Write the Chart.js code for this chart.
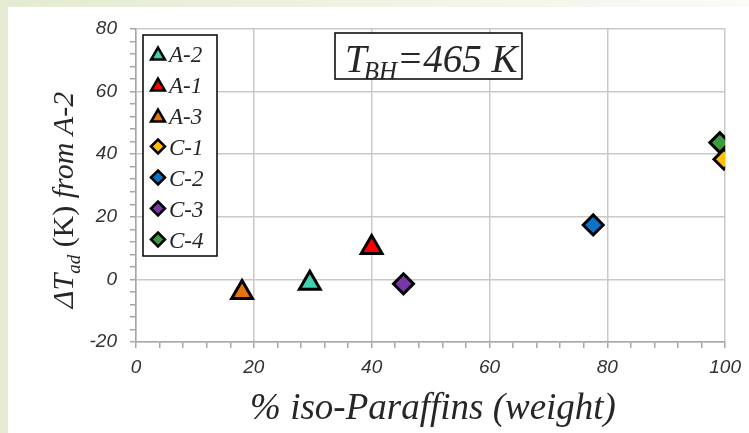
<!DOCTYPE html>
<html>
<head>
<meta charset="utf-8">
<script src="https://cdn.jsdelivr.net/npm/chart.js@4.4.1/dist/chart.umd.min.js"></script>
<style>
  html, body { margin: 0; padding: 0; background: #fff; }
  #wrap { width: 749px; height: 433px; }
</style>
</head>
<body>
<div id="wrap"><canvas id="chart"></canvas></div>
<script>
/*************************************************
 * DATA
 *************************************************/
const samples      = ["A-2", "A-1", "A-3", "C-1", "C-2", "C-3", "C-4"];
const isoParaffins = [29.5, 40, 18, 99.8, 77.6, 45.4, 99.1];   // % weight
const deltaTad     = [-1.2, 10.2, -4.2, 38.4, 17.4, -1.4, 43.7]; // K from A-2
const xTicks       = [0, 20, 40, 60, 80, 100];
const yTicks       = [-20, 0, 20, 40, 60, 80];

const colors = ["#3fd0ae", "#ff0000", "#e8720c", "#ffc000", "#0a73c8", "#7a35a8", "#3e9a3e"];
const shapes = ["triangle", "triangle", "triangle", "rectRot", "rectRot", "rectRot", "rectRot"];

const SERIF = "'Liberation Serif', 'DejaVu Serif', serif";
const SANS = "'Liberation Sans', Arial, sans-serif";

/*************************************************
 * PLUGINS
 *************************************************/
const backdrop = {
  id: "backdrop",
  beforeDraw(chart) {
    const { ctx, width, height } = chart;
    ctx.save();
    ctx.fillStyle = "#e5ecd3";
    ctx.fillRect(0, 0, width, height);
    const g = ctx.createLinearGradient(0, 0, width, 0);
    g.addColorStop(0, "#e3ebd0");
    g.addColorStop(1, "#fbfbf7");
    ctx.fillStyle = g;
    ctx.fillRect(0, 0, width, 7);
    ctx.fillStyle = "#ffffff";
    ctx.fillRect(8, 7, width - 8, height - 7);
    ctx.restore();
  }
};

function marker(ctx, style, color, r, bw, x, y) {
  ctx.fillStyle = color;
  ctx.strokeStyle = "#000";
  ctx.lineWidth = bw;
  Chart.helpers.drawPoint(ctx, { pointStyle: style, radius: r, borderWidth: bw, rotation: 0 }, x, y);
}

const decorations = {
  id: "decorations",
  afterDraw(chart) {
    const { ctx } = chart;
    ctx.save();
    ctx.fillStyle = "#262626";
    ctx.textBaseline = "alphabetic";

    // y axis title with subscript, "(K)" upright
    ctx.translate(73, 200);
    ctx.rotate(-Math.PI / 2);
    const main = "italic 30px " + SERIF;
    const roman = "30px " + SERIF;
    const sub = "italic 19px " + SERIF;
    const parts = [["\u0394T", main, 0], ["ad", sub, 7], [" ", main, 0], ["(K)", roman, 0], [" from A-2", main, 0]];
    let total = 0;
    parts.forEach(p => { ctx.font = p[1]; total += ctx.measureText(p[0]).width; });
    let px = -total / 2;
    ctx.textAlign = "left";
    parts.forEach(p => {
      ctx.font = p[1];
      ctx.fillText(p[0], px, p[2]);
      px += ctx.measureText(p[0]).width;
    });
    ctx.setTransform(1, 0, 0, 1, 0, 0);

    // x axis title
    ctx.font = "italic 37px " + SERIF;
    ctx.textAlign = "center";
    ctx.fillText("% iso-Paraffins (weight)", 433, 419);

    // T_BH box
    ctx.fillStyle = "#fff";
    ctx.fillRect(335, 33, 187, 46);
    ctx.strokeStyle = "#000";
    ctx.lineWidth = 1.5;
    ctx.strokeRect(335, 33, 187, 46);
    ctx.fillStyle = "#262626";
    ctx.textAlign = "left";
    let tx = 345;
    ctx.font = "italic 39px " + SERIF;
    ctx.fillText("T", tx, 72);
    tx += ctx.measureText("T").width - 3;
    ctx.font = "italic 25px " + SERIF;
    ctx.fillText("BH", tx, 79);
    tx += ctx.measureText("BH").width;
    ctx.font = "italic 39px " + SERIF;
    ctx.fillText("=465 K", tx, 72);

    // legend
    ctx.fillStyle = "#fff";
    ctx.fillRect(143, 35, 74, 221);
    ctx.strokeStyle = "#000";
    ctx.lineWidth = 1.5;
    ctx.strokeRect(143, 35, 74, 221);
    chart.data.datasets.forEach((ds, i) => {
      const cy = 53.5 + i * 31;
      const tri = ds.pointStyle === "triangle";
      marker(ctx, ds.pointStyle, ds.backgroundColor, tri ? 8 : 7, 2.5, 158, cy + (tri ? 2 : 0));
      ctx.fillStyle = "#262626";
      ctx.font = "italic 23px " + SERIF;
      ctx.fillText(ds.label, 169, cy + 8);
    });
    ctx.restore();
  }
};

/*************************************************
 * CHART
 *************************************************/
const datasets = samples.map((s, i) => ({
  label: s,
  data: [{ x: isoParaffins[i], y: deltaTad[i] }],
  pointStyle: shapes[i],
  backgroundColor: colors[i],
  borderColor: "#000",
  borderWidth: 3,
  pointRadius: shapes[i] === "triangle" ? 12 : 10,
  pointHoverRadius: shapes[i] === "triangle" ? 12 : 10
}));

function axis(min, max, major, fit) {
  return {
    type: "linear",
    min, max,
    afterFit: fit,
    afterBuildTicks(scale) {
      // minor ticks every 4 units, labels only on the major values
      const out = [];
      for (let v = min; v <= max; v += 4) out.push({ value: v });
      scale.ticks = out;
    },
    ticks: {
      autoSkip: false,
      maxRotation: 0,
      minRotation: 0,
      color: "#333333",
      font: { family: SANS, size: 19, style: "italic" },
      callback: v => (major.includes(v) ? v : "")
    },
    grid: {
      color: c => (c.tick && major.includes(c.tick.value) ? "#c9c9c9" : "rgba(0,0,0,0)"),
      lineWidth: 1.5,
      tickColor: "#a6a6a6",
      tickLength: 6,
      tickWidth: 1.5
    },
    border: { color: "#a6a6a6", width: 1.5 }
  };
}

const xScale = axis(0, 100, xTicks, s => { s.height = 91; });
xScale.ticks.padding = 8;
const yScale = axis(-20, 80, yTicks, s => { s.width = 136; });
yScale.ticks.padding = 13;

new Chart(document.getElementById("chart"), {
  type: "scatter",
  data: { datasets },
  options: {
    responsive: true,
    maintainAspectRatio: false,
    animation: false,
    layout: { padding: { top: 29, right: 20, left: 0, bottom: 0 } },
    plugins: { legend: { display: false }, tooltip: { enabled: false } },
    scales: { x: xScale, y: yScale }
  },
  plugins: [backdrop, decorations]
});
</script>
</body>
</html>
